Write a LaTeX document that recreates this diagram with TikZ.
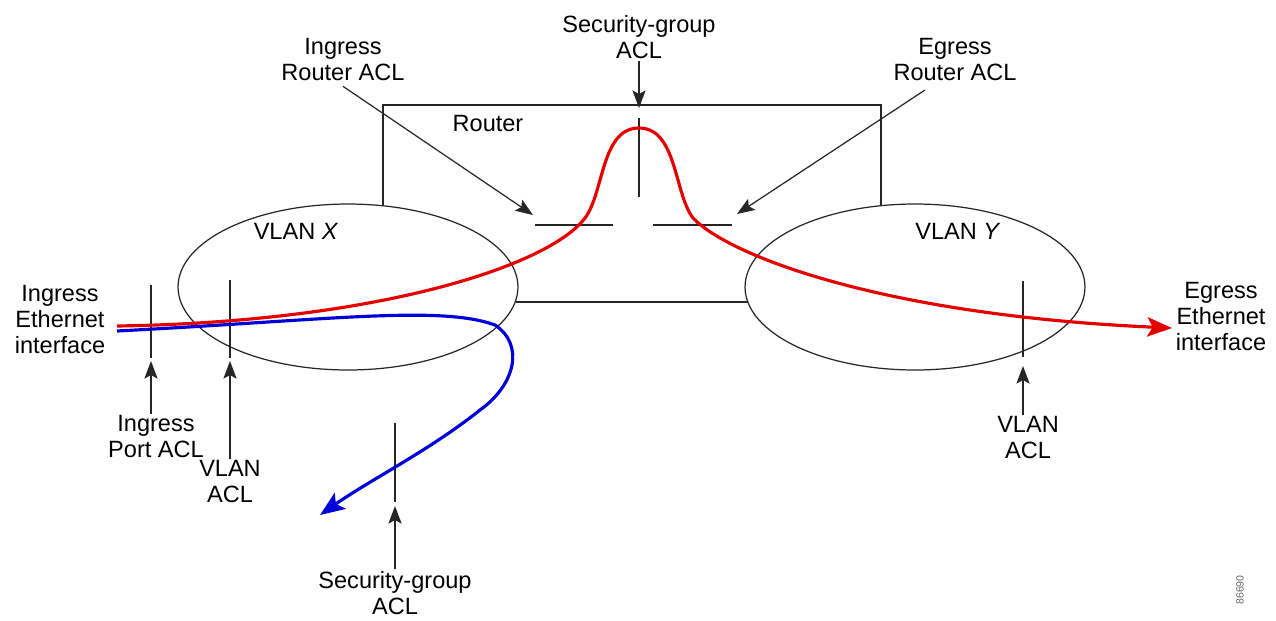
\documentclass[tikz,border=0pt]{standalone}
\usepackage{fontspec}
\setmainfont{Liberation Sans}
\usetikzlibrary{shapes.geometric,arrows.meta}
\begin{document}
\begin{tikzpicture}[x=0.02cm,y=-0.02cm,
  lbl/.style={align=center,inner sep=1pt,font=\fontsize{13.4}{14.8}\selectfont},
  thin line/.style={line width=0.7pt,draw=black!85},
  acl arrow/.style={line width=0.7pt,draw=black!85,-{Stealth[length=10pt,width=7.5pt,inset=2pt]}},
  vlan/.style={draw=black!85,line width=0.7pt,ellipse,inner sep=0pt,minimum width=6.8cm,minimum height=3.32cm},
  flow/.style={line width=1.8pt,-{Stealth[length=14pt,width=11pt,inset=3pt]}}]
\useasboundingbox (0,0) rectangle (1276,620);
% VLAN ellipses
\node[vlan] (vx) at (348,287) {};
\node[vlan] (vy) at (915,287) {};
% Router box
\coordinate (rl) at (383,206);
\coordinate (rr) at (881,206);
\coordinate (rbl) at (516,302);
\coordinate (rbr) at (748,302);
\draw[thin line] (rl) |- (881,105) -- (rr);
\draw[thin line] (rbl) -- (rbr);
\node[lbl] (router) at (488,124) {Router};
\node[lbl] (vxl) at (296,231) {VLAN \textit{X}};
\node[lbl] (vyl) at (958,231) {VLAN \textit{Y}};
% Router ACL bars
\coordinate (b1a) at (535,225); \coordinate (b1b) at (613,225);
\coordinate (b2a) at (653,225); \coordinate (b2b) at (732,225);
\coordinate (b3a) at (639,118); \coordinate (b3b) at (639,197);
\draw[thin line] (b1a) -- (b1b);
\draw[thin line] (b2a) -- (b2b);
\draw[thin line] (b3a) -- (b3b);
% port / vlan bars
\coordinate (p1a) at (151,285); \coordinate (p1b) at (151,358);
\coordinate (p2a) at (230,280); \coordinate (p2b) at (230,358);
\coordinate (p3a) at (395,423); \coordinate (p3b) at (395,502);
\coordinate (p4a) at (1023,281); \coordinate (p4b) at (1023,357);
\draw[thin line] (p1a) -- (p1b);
\draw[thin line] (p2a) -- (p2b);
\draw[thin line] (p3a) -- (p3b);
\draw[thin line] (p4a) -- (p4b);
% labels
\node[lbl] (sgt) at (639,37) {Security-group\\ACL};
\node[lbl] (irl) at (343,60) {Ingress\\Router ACL};
\node[lbl] (erl) at (955,60) {Egress\\Router ACL};
\node[lbl] (iei) at (60,320) {Ingress\\Ethernet\\interface};
\node[lbl] (eei) at (1221,317) {Egress\\Ethernet\\interface};
\node[lbl] (ipa) at (156,437) {Ingress\\Port ACL};
\node[lbl] (vla) at (230,482) {VLAN\\ACL};
\node[lbl] (sgb) at (395,593) {Security-group\\ACL};
\node[lbl] (vlb) at (1028,438) {VLAN\\ACL};
\node[font=\fontsize{6}{7}\selectfont,text=black!60,rotate=90,inner sep=0pt] (fig) at (1240,590) {86690};
% ACL arrows
\coordinate (sgtip) at (639,108);
\coordinate (irtip) at (533,215);
\coordinate (ertip) at (737,214);
\draw[acl arrow] (sgt.south) -- (sgtip);
\draw[acl arrow] (irl.south) ++(0,3) -- (irtip);
\draw[acl arrow] (925,90) -- (ertip);
\coordinate (q1) at (151,361);
\coordinate (q2) at (230,361);
\coordinate (q3) at (395,506);
\coordinate (q4) at (1023,366);
\draw[acl arrow] (ipa.north -| q1) -- (q1);
\draw[acl arrow] (vla.north) -- (q2);
\draw[acl arrow] (sgb.north) -- (q3);
\draw[acl arrow] (vlb.north -| q4) -- (q4);
% flows
\coordinate (rs) at (117,326);
\coordinate (re) at (1172,328);
\draw[flow,red!90!black] (rs) .. controls (380,322) and (550,265) .. (585,218)
  .. controls (604,193) and (601,128) .. (639,128)
  .. controls (677,128) and (674,193) .. (693,218)
  .. controls (728,255) and (880,315) .. (re);
\coordinate (bs) at (117,331);
\coordinate (be) at (320,515);
\draw[flow,blue!85!black] (bs) .. controls (330,320) and (440,305) .. (495,325)
  .. controls (525,345) and (515,385) .. (480,410)
  .. controls (430,450) and (370,480) .. (be);
\end{tikzpicture}
\end{document}
